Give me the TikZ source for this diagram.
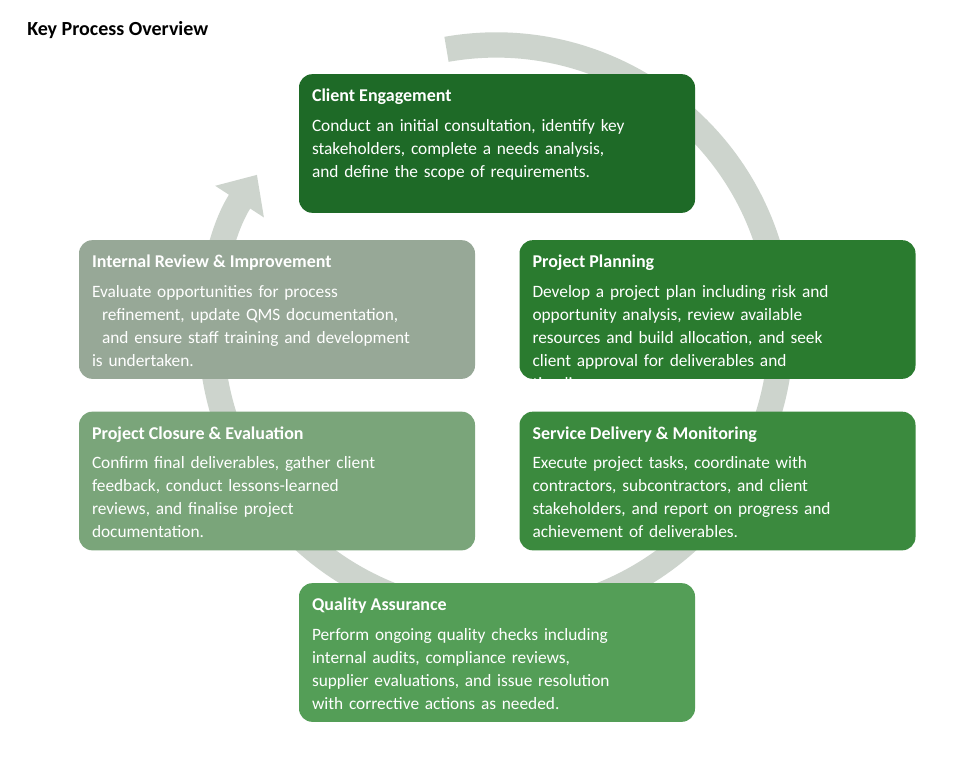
\documentclass[tikz,border=0pt]{standalone}
\usepackage{fontspec}
\setmainfont{Carlito}
\usetikzlibrary{arrows.meta}
\definecolor{cClient}{HTML}{1E6A27}
\definecolor{cPlan}{HTML}{2A7B2F}
\definecolor{cDeliv}{HTML}{3B8A3E}
\definecolor{cQual}{HTML}{549E57}
\definecolor{cClose}{HTML}{7AA57A}
\definecolor{cReview}{HTML}{97A897}
\definecolor{cRing}{HTML}{CDD4CD}
\tikzset{
  box/.style={rounded corners=10pt, minimum width=297pt, minimum height=104pt, inner sep=0pt},
  head/.style={anchor=north west, inner sep=0pt, text=white, font=\fontsize{13.5}{16}\selectfont\bfseries},
  body/.style={anchor=north west, inner sep=0pt, text=white, text width=280pt, font=\fontsize{13}{17.3}\selectfont}
}
\newcommand{\hang}{\raggedright\hangindent=7.5pt\hangafter=1 }
\begin{document}
\begin{tikzpicture}[x=0.75pt,y=-0.75pt]
\useasboundingbox (0,0) rectangle (979,774);
\fill[white] (0,0) rectangle (979,774);
\node[anchor=west, inner sep=0pt, font=\fontsize{15}{18}\selectfont\bfseries] (title) at (27,30) {Key Process Overview};

% cycle ring
\coordinate (hub) at (496,330);
\draw[cRing, line width=19pt, -{Triangle[width=42pt,length=24pt]}] ([shift={(-100:285)}]hub) arc[start angle=-100, end angle=213, radius=285];

% boxes
\node[box, fill=cClient] (client) at (497,143.5) {};
\node[box, fill=cPlan] (plan) at (717.5,309.5) {};
\node[box, fill=cDeliv] (deliv) at (717.5,481) {};
\node[box, fill=cQual] (qual) at (497,652.5) {};
\node[box, fill=cClose] (close) at (277,481) {};
\node[box, fill=cReview] (review) at (277,309.5) {};

% texts
\node[head] (clientH) at ([shift={(13,15)}]client.north west) {Client Engagement};
\node[body] (clientB) at ([shift={(13,45)}]client.north west) {\hang Conduct an initial consultation, identify key\\ stakeholders, complete a needs analysis,\\ and define the scope of requirements.};

\node[head] (planH) at ([shift={(13,15)}]plan.north west) {Project Planning};
\begin{scope}
\clip[rounded corners=10pt] (plan.north west) rectangle (plan.south east);
\node[body] (planB) at ([shift={(13,45)}]plan.north west) {\hang Develop a project plan including risk and\\ opportunity analysis, review available\\ resources and build allocation, and seek\\ client approval for deliverables and\\ timelines.};
\end{scope}

\node[head] (delivH) at ([shift={(13,15)}]deliv.north west) {Service Delivery \& Monitoring};
\node[body] (delivB) at ([shift={(13,45)}]deliv.north west) {\hang Execute project tasks, coordinate with\\ contractors, subcontractors, and client\\ stakeholders, and report on progress and\\ achievement of deliverables.};

\node[head] (qualH) at ([shift={(13,15)}]qual.north west) {Quality Assurance};
\node[body] (qualB) at ([shift={(13,45)}]qual.north west) {\hang Perform ongoing quality checks including\\ internal audits, compliance reviews,\\ supplier evaluations, and issue resolution\\ with corrective actions as needed.};

\node[head] (closeH) at ([shift={(13,15)}]close.north west) {Project Closure \& Evaluation};
\node[body] (closeB) at ([shift={(13,45)}]close.north west) {\hang Confirm final deliverables, gather client\\ feedback, conduct lessons-learned\\ reviews, and finalise project\\ documentation.};

\node[head] (reviewH) at ([shift={(13,15)}]review.north west) {Internal Review \& Improvement};
\node[body] (reviewB) at ([shift={(13,45)}]review.north west) {Evaluate opportunities for process\\ \hspace*{7.5pt}refinement, update QMS documentation,\\ \hspace*{7.5pt}and ensure staff training and development\\ is undertaken.};
\end{tikzpicture}
\end{document}
